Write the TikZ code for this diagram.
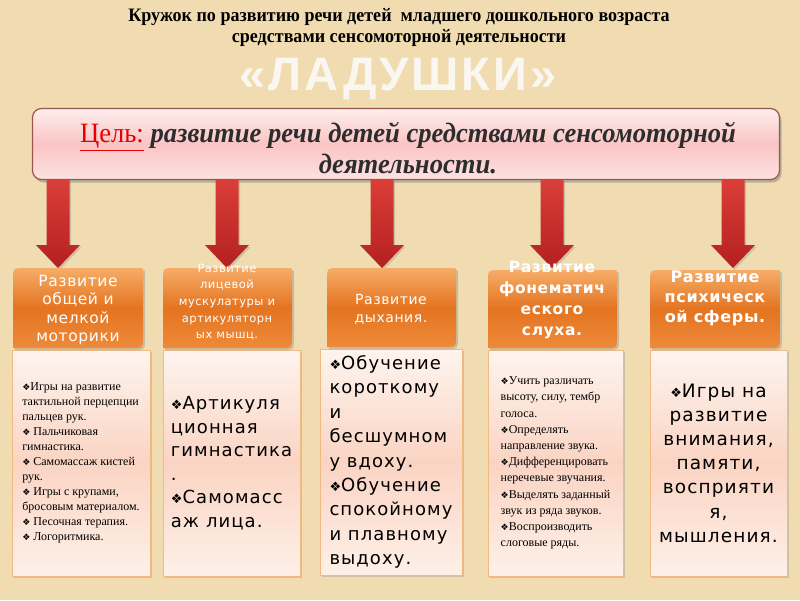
\documentclass[tikz,border=0pt]{standalone}
\usepackage{fontspec}
\setmainfont{Liberation Serif}
\newfontfamily\djv{DejaVu Sans}
\newfontfamily\djvls[LetterSpace=6]{DejaVu Sans}
\newfontfamily\djvlh[LetterSpace=4]{DejaVu Sans}
\newfontfamily\ttlfont[FakeStretch=0.95]{Liberation Serif}
\newfontfamily\ladfont[LetterSpace=6]{Liberation Sans}
\newfontfamily\goalfont[FakeStretch=0.95]{Liberation Serif}
\usetikzlibrary{shadows}
\definecolor{bgc}{RGB}{241,220,178}
\definecolor{goaltop}{RGB}{254,238,238}
\definecolor{goalmid}{RGB}{250,196,196}
\definecolor{goalbot}{RGB}{253,226,226}
\definecolor{goalborder}{RGB}{155,85,75}
\definecolor{goaltext}{RGB}{45,45,45}
\definecolor{goalred}{RGB}{230,0,0}
\definecolor{hdtop}{RGB}{246,172,104}
\definecolor{hdmid}{RGB}{228,116,32}
\definecolor{hdbot}{RGB}{238,138,58}
\definecolor{cbtop}{RGB}{254,244,238}
\definecolor{cbmid}{RGB}{250,212,195}
\definecolor{cbbot}{RGB}{254,240,232}
\definecolor{cbborder}{RGB}{240,186,128}
\definecolor{arrtop}{RGB}{218,62,56}
\definecolor{arrbot}{RGB}{180,32,32}
\definecolor{ladc}{RGB}{250,246,240}
\newcommand{\dbul}[1]{{\djv\fontsize{#1}{#1}\selectfont ❖}}
\newcommand{\hdrshape}[4]{\path[hdrfill] (#1,#4) -- (#1,#2+12) .. controls (#1,#2) .. (#1+12,#2) -- (#3-3,#2) .. controls (#3,#2) .. (#3,#2+3) -- (#3,#4-12) .. controls (#3,#4) .. (#3-12,#4) -- cycle;}
\newcommand{\redarrow}[3]{\path[arrfill] (#1-11.5,#2) -- (#1+11.5,#2) -- (#1+11.5,#3-23) -- (#1+22,#3-23) -- (#1,#3) -- (#1-22,#3-23) -- (#1-11.5,#3-23) -- cycle;}
\begin{document}
\begin{tikzpicture}[x=1pt,y=-1pt,
 hdrfill/.style={top color=hdtop, bottom color=hdbot, middle color=hdmid, drop shadow={shadow xshift=2pt,shadow yshift=-2pt,opacity=0.35}},
 arrfill/.style={top color=arrtop, bottom color=arrbot, drop shadow={shadow xshift=1.5pt,shadow yshift=-2pt,opacity=0.3}},
 hdrtext/.style={text=white, align=center, inner sep=0pt},
 cbox/.style={draw=cbborder, line width=1pt, top color=cbtop, bottom color=cbbot, middle color=cbmid, drop shadow={shadow xshift=2pt,shadow yshift=-2pt,opacity=0.3}, inner sep=0pt, minimum height=226pt, text=black},
 goalbox/.style={draw=goalborder, line width=1.2pt, rounded corners=9pt, top color=goaltop, bottom color=goalbot, middle color=goalmid, drop shadow={shadow xshift=2pt,shadow yshift=-3pt,opacity=0.5}, minimum width=747pt, minimum height=71pt, inner sep=0pt}]
\fill[bgc] (0,0) rectangle (800,600);
\useasboundingbox (0,0) rectangle (800,600);
% titles
\node[font=\ttlfont\bfseries\fontsize{19}{21}\selectfont, align=center] (title) at (399,27) {Кружок по развитию речи детей\ \ младшего дошкольного возраста\\средствами сенсомоторной деятельности};
\node[font=\ladfont\bfseries\fontsize{47}{47}\selectfont, text=ladc, inner sep=0pt] (lad) at (398,79) {«ЛАДУШКИ»};
% goal
\node[goalbox] (goal) at (406,144) {};
\node[align=center, inner sep=0pt, font=\goalfont\fontsize{28}{31}\selectfont] (goaltxt) at (408,148) {{\color{goalred}\underline{Цель:}} {\color{goaltext}\bfseries\itshape развитие речи детей средствами сенсомоторной}\\{\color{goaltext}\bfseries\itshape деятельности.}};
% arrows
\redarrow{58}{180}{268}
\redarrow{227}{180}{268}
\redarrow{382}{180}{268}
\redarrow{552}{180}{268}
\redarrow{733}{180}{268}
% content boxes
\node[cbox, minimum width=138pt, align=left, font=\fontsize{12}{15}\selectfont] (c1) at (81,463) {\dbul{9}Игры на развитие\\тактильной перцепции\\пальцев рук.\\\dbul{9} Пальчиковая\\гимнастика.\\\dbul{9} Самомассаж кистей\\рук.\\\dbul{9} Игры с крупами,\\бросовым материалом.\\\dbul{9} Песочная терапия.\\\dbul{9} Логоритмика.};
\node[cbox, minimum width=137pt, align=left, font=\djvls\fontsize{18}{23.5}\selectfont] (c2) at (231.5,463) {\dbul{13}Артикуля\\ционная\\гимнастика\\.\\\dbul{13}Самомасс\\аж лица.};
\node[cbox, minimum width=142pt, align=left, font=\djvls\fontsize{18}{24.4}\selectfont] (c3) at (391,462) {\dbul{13}Обучение\\короткому\\и\\бесшумном\\у вдоху.\\\dbul{13}Обучение\\спокойному\\и плавному\\выдоху.};
\node[cbox, minimum width=135pt, align=left, font=\fontsize{12}{16.2}\selectfont] (c4) at (555.5,463) {\dbul{9}Учить различать\\высоту, силу, тембр\\голоса.\\\dbul{9}Определять\\направление звука.\\\dbul{9}Дифференцировать\\неречевые звучания.\\\dbul{9}Выделять заданный\\звук из ряда звуков.\\\dbul{9}Воспроизводить\\слоговые ряды.};
\node[cbox, minimum width=137pt, align=center, font=\djvls\fontsize{18.5}{24.2}\selectfont] (c5) at (718.5,463) {\dbul{13}Игры на\\развитие\\внимания,\\памяти,\\восприяти\\я,\\мышления.};
% headers
\hdrshape{13}{268}{143}{348}
\hdrshape{163}{268}{292}{348}
\hdrshape{327}{268}{456}{347}
\hdrshape{488}{270}{617}{348}
\hdrshape{650}{270}{780}{348}
\node[hdrtext, font=\djvlh\fontsize{15.5}{18.5}\selectfont] (h1) at (78,310) {Развитие\\общей и\\мелкой\\моторики};
\node[hdrtext, font=\djvlh\fontsize{11.5}{16.7}\selectfont] (h2) at (227,302) {Развитие\\лицевой\\мускулатуры и\\артикуляторн\\ых мышц.};
\node[hdrtext, font=\djvlh\fontsize{14}{18}\selectfont] (h3) at (391,309) {Развитие\\дыхания.};
\node[hdrtext, font=\djvlh\bfseries\fontsize{15.5}{21}\selectfont] (h4) at (552,300) {Развитие\\фонематич\\еского\\слуха.};
\node[hdrtext, font=\djvlh\bfseries\fontsize{16}{20}\selectfont] (h5) at (715,298) {Развитие\\психическ\\ой сферы.};
\end{tikzpicture}
\end{document}
